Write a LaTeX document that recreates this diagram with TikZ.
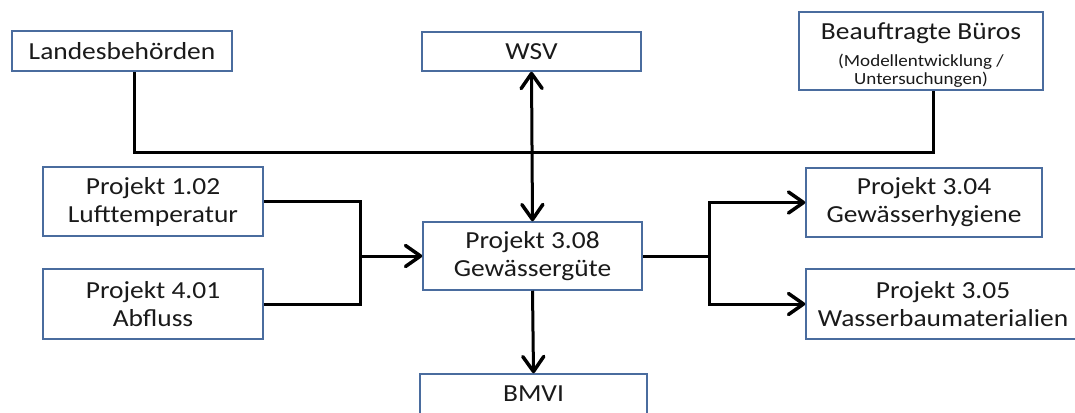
\documentclass[tikz,border=0pt]{standalone}
\usepackage{fontspec}
\setmainfont{Carlito}[FakeStretch=1.12]
\usepackage{tikz}
\usetikzlibrary{arrows.meta}

\definecolor{boxblue}{RGB}{74,108,158}
\definecolor{txtgray}{RGB}{26,26,26}

\tikzset{
  box/.style={draw=boxblue, line width=1.5pt, fill=white, text=txtgray, align=center,
    inner sep=0pt, font=\fontsize{24.5}{28}\selectfont},
  conn/.style={line width=3pt, black},
  tip/.tip={Straight Barb[length=15pt, width=21pt, line width=3.5pt, line cap=round, line join=round]},
  arr/.style={conn, -tip},
  biarr/.style={conn, tip-tip},
}
\newcommand{\smalltxt}{\fontsize{17}{17}\selectfont}

\begin{document}
\begin{tikzpicture}[x=1pt, y=-1pt]

    \useasboundingbox (0,0) rectangle (1075,412);

    % top row
    \node[box, minimum width=220pt, minimum height=40pt] (land) at (122, 51) {Landesbehörden};
    \node[box, minimum width=219pt, minimum height=39pt] (wsv) at (531.5, 51.5) {WSV};
    \node[box, minimum width=244pt, minimum height=78pt] (bueros) at (921, 51)
        {\rule{0pt}{24pt}Beauftragte Büros\\[-1pt]{\smalltxt (Modellentwicklung /}\\[-10pt]{\smalltxt Untersuchungen)}};

    % inputs
    \node[box, minimum width=220pt, minimum height=69pt] (p102) at (153, 201.5) {Projekt 1.02\\Lufttemperatur};
    \node[box, minimum width=220pt, minimum height=70pt] (p401) at (153, 304) {Projekt 4.01\\Abfluss};

    % centre
    \node[box, minimum width=219pt, minimum height=68pt] (p308) at (532.5, 256) {Projekt 3.08\\Gewässergüte};
    \node[box, minimum width=227pt, minimum height=40pt] (bmvi) at (533.5, 394) {BMVI};

    % outputs
    \node[box, minimum width=236pt, minimum height=69pt] (p304) at (924, 202.5) {Projekt 3.04\\Gewässerhygiene};
    \node[box, minimum width=274pt, minimum height=70pt] (p305) at (943, 304) {Projekt 3.05\\Wasserbaumaterialien};

    \coordinate (bus) at (532, 152);
    \coordinate (mergeL) at (360, 256);
    \coordinate (splitR) at (709, 256);

    \draw[conn] ([xshift=12pt]land.south) |- (bus) -| ([xshift=12pt]bueros.south);
    \draw[biarr] (wsv.south) -- (p308.north);

    \draw[conn] (p102.east) -| (mergeL) |- (p401.east);
    \draw[arr] (mergeL) -- (p308.west);

    \draw[conn] (p308.east) -- (splitR);
    \draw[arr] (splitR) |- (p304.west);
    \draw[arr] (splitR) |- (p305.west);

    \draw[arr] (p308.south) -- (bmvi.north);

\end{tikzpicture}
\end{document}
